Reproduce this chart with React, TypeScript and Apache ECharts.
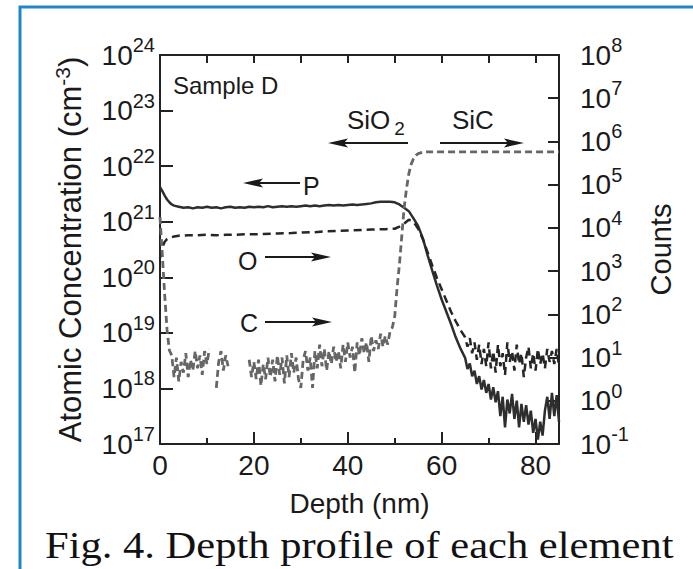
import React, { useEffect, useRef } from "react";
import * as echarts from "echarts";

// ---------- data ----------
// Depth axis ticks (nm)
const depthMin = 0;
const depthMax = 85;
const depthLabelTicks = [0, 20, 40, 60, 80];
const depthMinorTicks = [10, 30, 50, 70];
const depthTopTicks = [10, 20, 30, 40, 50, 60, 70, 80];

// Axis ranges
const concMin = 1e17;
const concMax = 1e24;
const countsMin = 0.1;
const countsMax = 1e8;

// P : [depth nm, log10 atomic concentration (cm^-3)]  (left axis)
const pLogConc: [number, number][] = [
  [0, 21.62], [0.5, 21.55], [1, 21.47], [1.5, 21.4], [2, 21.35], [2.5, 21.31], [3, 21.29], [4, 21.27],
  [5, 21.25], [6, 21.26], [7, 21.24], [8, 21.26], [9, 21.25], [10, 21.27], [11, 21.25], [12, 21.26],
  [13, 21.24], [14, 21.26], [15, 21.27], [16, 21.25], [17, 21.26], [18, 21.25], [19, 21.27], [20, 21.26],
  [21, 21.27], [22, 21.26], [23, 21.28], [24, 21.26], [25, 21.27], [26, 21.28], [27, 21.27], [28, 21.28],
  [29, 21.27], [30, 21.28], [31, 21.29], [32, 21.28], [33, 21.29], [34, 21.28], [35, 21.29], [36, 21.3],
  [37, 21.29], [38, 21.3], [39, 21.29], [40, 21.3], [41, 21.31], [42, 21.3], [43, 21.31], [44, 21.32],
  [45, 21.33], [46, 21.35], [47, 21.36], [48, 21.36], [49, 21.36], [50, 21.35], [51, 21.31], [52, 21.25],
  [53, 21.19], [54, 21.06], [55, 20.92], [56, 20.7], [57, 20.4], [58, 20.12], [59, 19.85], [60, 19.6],
  [61, 19.38], [62, 19.16], [63, 18.92], [64, 18.72], [65, 18.55], [65.5, 18.35], [66, 18.45], [66.5, 18.22],
  [67, 18.32], [67.5, 18.08], [68, 18.22], [68.5, 17.98], [69, 18.15], [69.5, 17.92], [70, 18.08], [70.5, 17.8],
  [71, 18.02], [71.5, 17.75], [72, 17.95], [72.5, 17.5], [73, 17.85], [73.5, 17.3], [74, 17.8], [74.5, 17.55],
  [75, 17.9], [75.5, 17.45], [76, 17.78], [76.5, 17.3], [77, 17.72], [77.5, 17.4], [78, 17.7], [78.5, 17.35],
  [79, 17.6], [79.5, 17.2], [80, 17.45], [80.5, 17.08], [81, 17.4], [81.5, 17.15], [82, 17.6], [82.5, 17.85],
  [83, 17.45], [83.5, 17.92], [84, 17.5], [84.5, 17.88], [85, 17.4],
];

// O : [depth nm, log10 counts]  (right axis)
const oLogCounts: [number, number][] = [
  [0, 3.3], [0.5, 3.55], [1, 3.68], [1.5, 3.74], [2, 3.77], [3, 3.8], [4, 3.82], [6, 3.83], [8, 3.83],
  [10, 3.84], [12, 3.83], [14, 3.84], [16, 3.84], [18, 3.85], [20, 3.85], [22, 3.86], [25, 3.87],
  [28, 3.88], [30, 3.89], [33, 3.9], [35, 3.92], [38, 3.93], [40, 3.94], [43, 3.95], [45, 3.96],
  [48, 3.97], [50, 3.98], [51, 4.03], [52, 4.1], [53, 4.19], [54, 4.14], [55, 3.98], [56, 3.74],
  [57, 3.44], [58, 3.13], [59, 2.84], [60, 2.58], [61, 2.32], [62, 2.06], [63, 1.84], [64, 1.64],
  [65, 1.47], [65.5, 1.25], [66, 1.45], [66.5, 1.1], [67, 1.35], [67.5, 0.95], [68, 1.3], [68.5, 0.85],
  [69, 1.2], [69.5, 0.8], [70, 1.35], [70.5, 0.75], [71, 1.15], [71.5, 0.65], [72, 1.3], [72.5, 0.8],
  [73, 1.1], [73.5, 0.6], [74, 1.35], [74.5, 0.9], [75, 1.15], [75.5, 0.7], [76, 1.3], [76.5, 0.85],
  [77, 1.1], [77.5, 0.55], [78, 1.0], [78.5, 1.25], [79, 0.75], [79.5, 1.1], [80, 0.7], [80.5, 1.2],
  [81, 0.85], [81.5, 1.1], [82, 0.75], [82.5, 1.2], [83, 0.9], [83.5, 1.15], [84, 0.85], [84.5, 1.2],
  [85, 0.8],
];

// C : [depth nm, log10 counts or null (no signal)]  (right axis)
const cLogCounts: [number, number | null][] = [
  [0, 4.25], [0.5, 3.37], [1, 2.45], [1.5, 1.64], [2, 1.17], [2.5, 1.05], [3, 0.55], [3.5, 1.0], [4, 0.45],
  [4.5, 0.9], [5, 0.65], [5.5, 1.1], [6, 0.55], [6.5, 0.95], [7, 0.7], [7.5, 1.15], [8, 0.75], [8.5, 1.05],
  [9, 0.6], [9.5, 1.15], [10, 0.85], [10.5, 1.2], [11, null], [12, 0.3], [12.5, 0.9], [13, 1.15],
  [13.5, 0.7], [14, 1.05], [14.5, 0.8], [15, null], [19, 0.95], [19.5, 0.55], [20, 0.9], [20.5, 0.5],
  [21, 0.95], [21.5, 0.35], [22, 0.85], [22.5, 0.5], [23, 1.0], [23.5, 0.55], [24, 0.95], [24.5, 0.45],
  [25, 1.05], [25.5, 0.6], [26, 1.0], [26.5, 0.4], [27, 1.05], [27.5, 0.55], [28, 1.1], [28.5, 0.65],
  [29, 1.0], [29.5, 0.5], [30, 0.3], [30.5, 0.95], [31, 1.15], [31.5, 0.7], [32, 1.0], [32.5, 0.3],
  [33, 1.15], [33.5, 0.75], [34, 1.3], [34.5, 0.8], [35, 1.2], [35.5, 0.7], [36, 1.15], [36.5, 0.85],
  [37, 1.25], [37.5, 0.9], [38, 1.15], [38.5, 0.75], [39, 1.3], [39.5, 0.9], [40, 1.35], [40.5, 1.0],
  [41, 1.25], [41.5, 0.65], [42, 1.35], [42.5, 1.05], [43, 1.45], [43.5, 1.1], [44, 1.35], [44.5, 0.9],
  [45, 1.5], [45.5, 1.15], [46, 1.4], [46.5, 1.2], [47, 1.55], [47.5, 1.25], [48, 1.5], [48.5, 1.3],
  [49, 1.6], [49.5, 1.7], [50, 1.95], [50.5, 2.6], [51, 3.15], [51.5, 3.8], [52, 4.45], [52.5, 4.9],
  [53, 5.25], [53.5, 5.47], [54, 5.6], [54.5, 5.68], [55, 5.72], [56, 5.75], [57, 5.76], [60, 5.76],
  [70, 5.76], [85, 5.76],
];

// ---------- styling ----------
const SANS = "'Liberation Sans', Arial, Helvetica, sans-serif";
const SERIF = "'Liberation Serif', 'Times New Roman', serif";
const INK = "#1a1a1a";
const AXIS = "#222222";

const toPairs = (rows: [number, number | null][]) =>
  rows.map(([d, e]) => [d, e === null ? null : Math.pow(10, e)]);

const powLabel = (v: number) => `10{sup|${Math.round(Math.log10(v))}}`;

const supRich = {
  sup: { fontSize: 20, fontFamily: SANS, color: INK, padding: [0, 0, 20, 0] },
};

function arrow(tailX: number, tipX: number, y: number) {
  const dir = tipX > tailX ? 1 : -1;
  const headLen = 20;
  const halfW = 4.5;
  return [
    {
      type: "line",
      shape: { x1: tailX, y1: y, x2: tipX - dir * headLen * 0.6, y2: y },
      style: { stroke: INK, lineWidth: 2 },
    },
    {
      type: "polygon",
      shape: {
        points: [
          [tipX, y],
          [tipX - dir * headLen, y - halfW],
          [tipX - dir * headLen * 0.8, y],
          [tipX - dir * headLen, y + halfW],
        ],
      },
      style: { fill: INK },
    },
  ];
}

function label(text: string, x: number, y: number, size: number, rich?: any) {
  return {
    type: "text",
    x,
    y,
    style: {
      text,
      fill: INK,
      font: `${size}px ${SANS}`,
      align: "left",
      verticalAlign: "middle",
      rich,
    },
  };
}

export default function App() {
  const ref = useRef<HTMLDivElement>(null);

  useEffect(() => {
    if (!ref.current) return;
    const chart = echarts.init(ref.current, undefined, { renderer: "svg" });

    const xCommon = {
      type: "value",
      min: depthMin,
      max: depthMax,
      interval: 20,
      splitLine: { show: false },
    };

    const option: any = {
      animation: false,
      backgroundColor: "#ffffff",
      grid: { left: 160, top: 55, width: 399, height: 389, outerBoundsMode: "none", containLabel: false },
      xAxis: [
        {
          ...xCommon,
          position: "bottom",
          name: "Depth (nm)",
          nameLocation: "middle",
          nameGap: 45,
          nameTextStyle: { fontSize: 28, fontFamily: SANS, color: INK },
          axisLine: { show: true, onZero: false, lineStyle: { color: AXIS, width: 2 } },
          axisTick: { show: true, inside: true, length: 12, customValues: depthLabelTicks, lineStyle: { color: AXIS, width: 2 } },
          axisLabel: { show: true, customValues: depthLabelTicks, fontSize: 28, fontFamily: SANS, color: INK, margin: 7 },
        },
        {
          ...xCommon,
          position: "bottom",
          axisLine: { show: false, onZero: false },
          axisTick: { show: true, inside: true, length: 6, customValues: depthMinorTicks, lineStyle: { color: AXIS, width: 2 } },
          axisLabel: { show: false },
        },
        {
          ...xCommon,
          position: "top",
          axisLine: { show: true, onZero: false, lineStyle: { color: AXIS, width: 2 } },
          axisTick: { show: true, inside: true, length: 8, customValues: depthTopTicks, lineStyle: { color: AXIS, width: 2 } },
          axisLabel: { show: false },
        },
      ],
      yAxis: [
        {
          type: "log",
          logBase: 10,
          min: concMin,
          max: concMax,
          splitNumber: 7,
          position: "left",
          name: "Atomic Concentration (cm{sup|-3})",
          nameLocation: "middle",
          nameGap: 71,
          nameTextStyle: {
            fontSize: 31,
            fontFamily: SANS,
            color: INK,
            rich: { sup: { fontSize: 21, fontFamily: SANS, color: INK, padding: [0, 0, 16, 0] } },
          },
          splitLine: { show: false },
          axisLine: { show: true, onZero: false, lineStyle: { color: AXIS, width: 2 } },
          axisTick: { show: true, inside: true, length: 13, lineStyle: { color: AXIS, width: 2 } },
          axisLabel: {
            formatter: powLabel,
            fontSize: 28,
            fontFamily: SANS,
            color: INK,
            margin: 5,
            rich: supRich,
          },
        },
        {
          type: "log",
          logBase: 10,
          min: countsMin,
          max: countsMax,
          splitNumber: 9,
          position: "right",
          name: "Counts",
          nameLocation: "middle",
          nameGap: 87,
          nameTextStyle: { fontSize: 29, fontFamily: SANS, color: INK },
          splitLine: { show: false },
          axisLine: { show: true, onZero: false, lineStyle: { color: AXIS, width: 2 } },
          axisTick: { show: true, inside: true, length: 11, lineStyle: { color: AXIS, width: 2 } },
          axisLabel: {
            formatter: powLabel,
            fontSize: 28,
            fontFamily: SANS,
            color: INK,
            margin: 21,
            rich: supRich,
          },
        },
      ],
      series: [
        {
          name: "P",
          type: "line",
          xAxisIndex: 0,
          yAxisIndex: 0,
          data: toPairs(pLogConc),
          showSymbol: false,
          symbol: "none",
          lineStyle: { color: "#2e2e2e", width: 2.5, type: "solid" },
        },
        {
          name: "O",
          type: "line",
          xAxisIndex: 0,
          yAxisIndex: 1,
          data: toPairs(oLogCounts),
          showSymbol: false,
          symbol: "none",
          lineStyle: { color: "#262626", width: 2.5, type: [8, 5] },
        },
        {
          name: "C",
          type: "line",
          xAxisIndex: 0,
          yAxisIndex: 1,
          data: toPairs(cLogCounts),
          showSymbol: false,
          symbol: "none",
          connectNulls: false,
          lineStyle: { color: "#666666", width: 2.8, type: [7, 4] },
        },
      ],
      graphic: [
        // outer blue frame
        {
          type: "rect",
          shape: { x: 20, y: 7, width: 700, height: 620 },
          style: { fill: "none", stroke: "#2285c5", lineWidth: 3 },
        },
        label("Sample D", 173, 85, 24),
        label("SiO{sub|2}", 347, 120, 26, {
          sub: { fontSize: 19, fontFamily: SANS, color: INK, padding: [16, 0, 0, 4] },
        }),
        label("SiC", 452, 120, 26),
        ...arrow(408, 328, 143),
        ...arrow(440, 524, 143),
        label("P", 303, 186, 25),
        ...arrow(300, 243, 183),
        label("O", 238, 261, 25),
        ...arrow(265, 331, 257),
        label("C", 240, 323, 25),
        ...arrow(265, 332, 322),
        {
          type: "text",
          x: 45,
          y: 545,
          scaleX: 1.12,
          style: {
            text: "Fig. 4. Depth profile of each element",
            fill: "#111111",
            font: `38px ${SERIF}`,
            align: "left",
            verticalAlign: "middle",
          },
        },
      ],
    };

    chart.setOption(option);
    return () => chart.dispose();
  }, []);

  return (
    <div
      ref={ref}
      style={{ position: "fixed", left: 0, top: 0, width: 693, height: 569, background: "#ffffff" }}
    />
  );
}
